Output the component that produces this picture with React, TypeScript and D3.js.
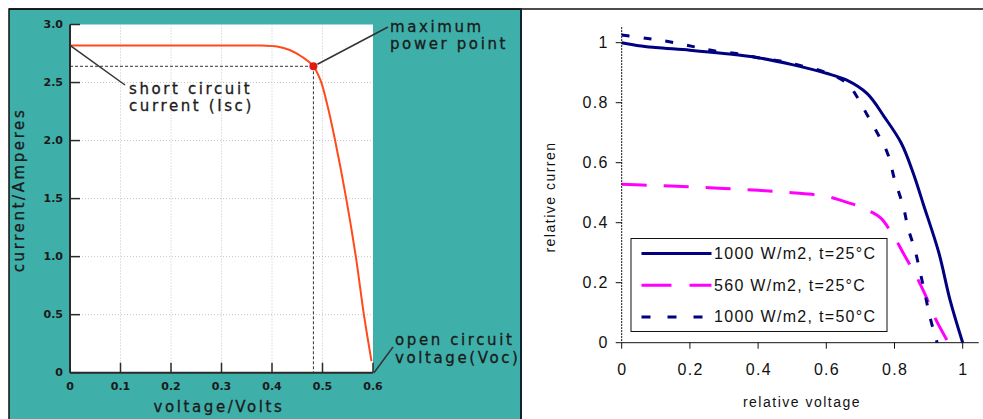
import React from "react";
import * as d3 from "d3";

// ---------- Left panel data (I-V curve) ----------
const leftVoltage = [0, 0.1, 0.2, 0.3, 0.38, 0.41, 0.435, 0.46, 0.482, 0.496, 0.511, 0.525, 0.547, 0.566, 0.582, 0.597];
const leftCurrent = [2.82, 2.82, 2.82, 2.82, 2.818, 2.81, 2.78, 2.72, 2.64, 2.52, 2.28, 2.0, 1.5, 1.0, 0.5, 0.1];
const mpp = { v: 0.482, i: 2.64 };
const iscValue = 2.82;
const vocValue = 0.6;
const leftXTicks = [0, 0.1, 0.2, 0.3, 0.4, 0.5, 0.6];
const leftXLabels = ["0", "0.1", "0.2", "0.3", "0.4", "0.5", "0.6"];
const leftYTicks = [0, 0.5, 1.0, 1.5, 2.0, 2.5, 3.0];
const leftYLabels = ["0", "0.5", "1.0", "1.5", "2.0", "2.5", "3.0"];

// ---------- Right panel data (relative curves) ----------
const seriesNames = ["1000 W/m2, t=25°C", "560 W/m2, t=25°C", "1000 W/m2, t=50°C"];
const s1V = [0, 0.05, 0.1, 0.2, 0.3, 0.4, 0.5, 0.6, 0.66, 0.72, 0.77, 0.82, 0.855, 0.885, 0.93, 0.963, 1.0];
const s1I = [1.0, 0.99, 0.984, 0.975, 0.964, 0.95, 0.927, 0.898, 0.875, 0.83, 0.753, 0.665, 0.565, 0.46, 0.3, 0.142, 0];
const s2V = [0, 0.1, 0.2, 0.3, 0.4, 0.5, 0.6, 0.65, 0.7, 0.73, 0.76, 0.8, 0.83, 0.86, 0.89, 0.92, 0.958];
const s2I = [0.528, 0.524, 0.52, 0.514, 0.508, 0.5, 0.488, 0.472, 0.453, 0.437, 0.415, 0.35, 0.29, 0.23, 0.16, 0.08, 0];
const s3V = [0, 0.07, 0.14, 0.21, 0.27, 0.34, 0.4, 0.46, 0.52, 0.6, 0.66, 0.69, 0.72, 0.75, 0.78, 0.8, 0.826, 0.84, 0.86, 0.875, 0.89, 0.905, 0.925];
const s3I = [1.026, 1.015, 1.003, 0.987, 0.973, 0.963, 0.95, 0.94, 0.925, 0.9, 0.865, 0.82, 0.759, 0.698, 0.63, 0.545, 0.453, 0.381, 0.309, 0.237, 0.159, 0.081, 0];
const rightXTicks = [0, 0.2, 0.4, 0.6, 0.8, 1];
const rightXLabels = ["0", "0.2", "0.4", "0.6", "0.8", "1"];
const rightYTicks = [0, 0.2, 0.4, 0.6, 0.8, 1];
const rightYLabels = ["0", "0.2", "0.4", "0.6", "0.8", "1"];

const TEAL = "#3fafa9";
const NAVY = "#000080";
const MAGENTA = "#ff00ff";
const ORANGE = "#ff4a1c";

export default function App() {
  // Left scales
  const lx = d3.scaleLinear().domain([0, 0.6]).range([70, 373]);
  const ly = d3.scaleLinear().domain([0, 3]).range([372.7, 24.5]);
  const leftLine = d3
    .line<number>()
    .x((_, k) => lx(leftVoltage[k]))
    .y((d) => ly(d))
    .curve(d3.curveCatmullRom.alpha(0.5));

  // Right scales
  const rx = d3.scaleLinear().domain([0, 1]).range([621.7, 962.7]);
  const ry = d3.scaleLinear().domain([0, 1]).range([342.7, 42.7]);
  const mk = (vs: number[], is: number[]) =>
    d3
      .line<number>()
      .x((_, k) => rx(vs[k]))
      .y((d) => ry(d))
      .curve(d3.curveCatmullRom.alpha(0.5))(is) as string;

  const leftFont = "'DejaVu Sans', Verdana, sans-serif";
  const rightFont = "'Liberation Sans', Arial, sans-serif";
  const annStyle: React.CSSProperties = { fontFamily: leftFont, fontSize: 15, letterSpacing: 2.6 };
  const rStyle: React.CSSProperties = { fontFamily: rightFont, fontSize: 16, letterSpacing: 1.3 };
  const tickStyle: React.CSSProperties = { fontFamily: leftFont, fontSize: 11, fontWeight: "bold" };

  const legendRows = [
    { name: seriesNames[0], color: NAVY, dash: undefined as string | undefined },
    { name: seriesNames[1], color: MAGENTA, dash: "30 18" },
    { name: seriesNames[2], color: NAVY, dash: "9 17" },
  ];

  return (
    <svg width={983} height={419} style={{ position: "absolute", left: 0, top: 0, background: "#fff" }}>
      {/* Left teal panel */}
      <rect x={9} y={9} width={512} height={420} fill={TEAL} stroke="#111" strokeWidth={1.5} />
      <line x1={9} x2={983} y1={9} y2={9} stroke="#111" strokeWidth={1.5} />
      {/* plot area */}
      <rect x={lx(0)} y={ly(3)} width={lx(0.6) - lx(0)} height={ly(0) - ly(3)} fill="#fff" />
      {/* grid */}
      {leftXTicks.slice(1, -1).map((t) => (
        <line key={"gx" + t} x1={lx(t)} x2={lx(t)} y1={ly(3)} y2={ly(0)} stroke="#c4c4c4" strokeWidth={1} strokeDasharray="1 2" />
      ))}
      {leftYTicks.slice(1, -1).map((t) => (
        <line key={"gy" + t} x1={lx(0)} x2={lx(0.6)} y1={ly(t)} y2={ly(t)} stroke="#c4c4c4" strokeWidth={1} strokeDasharray="1 2" />
      ))}
      {/* MPP guides */}
      <line x1={lx(0)} x2={lx(mpp.v)} y1={ly(mpp.i)} y2={ly(mpp.i)} stroke="#333" strokeWidth={1} strokeDasharray="3 2" />
      <line x1={lx(mpp.v)} x2={lx(mpp.v)} y1={ly(mpp.i)} y2={ly(0)} stroke="#333" strokeWidth={1} strokeDasharray="3 2" />
      {/* curve */}
      <path d={leftLine(leftCurrent) as string} fill="none" stroke={ORANGE} strokeWidth={2} />
      <circle cx={lx(mpp.v)} cy={ly(mpp.i)} r={4} fill="#e01a10" />
      {/* axes */}
      <line x1={lx(0)} x2={lx(0)} y1={ly(3)} y2={ly(0)} stroke="#2a2a2a" strokeWidth={2} />
      <line x1={lx(0)} x2={lx(0.6)} y1={ly(0)} y2={ly(0)} stroke="#2a2a2a" strokeWidth={2} />
      {leftYTicks.map((t, k) => (
        <g key={"ly" + t}>
          <line x1={lx(0)} x2={lx(0) + 10} y1={ly(t)} y2={ly(t)} stroke="#2a2a2a" strokeWidth={1.5} />
          <text x={63} y={ly(t)} textAnchor="end" dominantBaseline="central" style={tickStyle} fill="#1a1a1a">
            {leftYLabels[k]}
          </text>
        </g>
      ))}
      {leftXTicks.map((t, k) => (
        <g key={"lx" + t}>
          <line x1={lx(t)} x2={lx(t)} y1={ly(0)} y2={ly(0) - 10} stroke="#2a2a2a" strokeWidth={1.5} />
          <text x={lx(t)} y={386} textAnchor="middle" dominantBaseline="central" style={tickStyle} fill="#1a1a1a">
            {leftXLabels[k]}
          </text>
        </g>
      ))}
      {/* axis titles */}
      <text x={219} y={407} textAnchor="middle" dominantBaseline="central" style={annStyle} fill="#1a1a1a" stroke="#1a1a1a" strokeWidth={0.3}>
        voltage/Volts
      </text>
      <text transform="translate(19,190) rotate(-90)" textAnchor="middle" dominantBaseline="central" style={annStyle} fill="#1a1a1a" stroke="#1a1a1a" strokeWidth={0.3}>
        current/Amperes
      </text>
      {/* annotations */}
      <g fill="#1a1a1a" stroke="#1a1a1a" strokeWidth={0.3} style={annStyle}>
        <text x={129} y={89} dominantBaseline="central">short circuit</text>
        <text x={129} y={106} dominantBaseline="central">current (Isc)</text>
        <text x={390} y={27} dominantBaseline="central">maximum</text>
        <text x={390} y={44} dominantBaseline="central">power point</text>
        <text x={395} y={340} dominantBaseline="central">open circuit</text>
        <text x={395} y={358} dominantBaseline="central">voltage(Voc)</text>
      </g>
      <line x1={lx(0)} y1={ly(iscValue)} x2={125} y2={85} stroke="#333" strokeWidth={1.5} />
      <line x1={lx(mpp.v) + 4} y1={ly(mpp.i) - 2} x2={388} y2={27} stroke="#333" strokeWidth={1.5} />
      <line x1={lx(vocValue) + 1} y1={ly(0)} x2={393} y2={347} stroke="#333" strokeWidth={1.5} />

      {/* Right panel */}
      <rect x={521} y={10} width={462} height={409} fill="#fff" />
      <line x1={521} x2={521} y1={9} y2={419} stroke="#123" strokeWidth={2} />
      {/* curves */}
      <path d={mk(s1V, s1I)} fill="none" stroke={NAVY} strokeWidth={3} />
      <path d={mk(s2V, s2I)} fill="none" stroke={MAGENTA} strokeWidth={3} strokeDasharray="25 17" />
      <path d={mk(s3V, s3I)} fill="none" stroke={NAVY} strokeWidth={3} strokeDasharray="8 14" />
      {/* axes */}
      <line x1={rx(0)} x2={rx(0)} y1={ry(1.052)} y2={ry(0)} stroke="#111" strokeWidth={1} strokeDasharray="2 1" />
      <line x1={rx(0)} x2={rx(1.047)} y1={ry(0)} y2={ry(0)} stroke="#111" strokeWidth={1} />
      {rightYTicks.map((t, k) => (
        <g key={"ry" + t}>
          <line x1={rx(0) - 6} x2={rx(0)} y1={ry(t)} y2={ry(t)} stroke="#111" strokeWidth={1} />
          <text x={rx(0) - 13} y={ry(t)} textAnchor="end" dominantBaseline="central" style={rStyle} fill="#111">
            {rightYLabels[k]}
          </text>
        </g>
      ))}
      {rightXTicks.map((t, k) => (
        <g key={"rx" + t}>
          <line x1={rx(t)} x2={rx(t)} y1={ry(0)} y2={ry(0) + 6} stroke="#111" strokeWidth={1} />
          <text x={rx(t) + 0.7} y={369} textAnchor="middle" dominantBaseline="central" style={rStyle} fill="#111">
            {rightXLabels[k]}
          </text>
        </g>
      ))}
      <text x={802} y={402} textAnchor="middle" dominantBaseline="central" style={{ fontFamily: rightFont, fontSize: 14, letterSpacing: 1.5 }} fill="#111">
        relative voltage
      </text>
      <text transform="translate(550,197) rotate(-90)" textAnchor="middle" dominantBaseline="central" style={{ fontFamily: rightFont, fontSize: 14, letterSpacing: 1.5 }} fill="#111">
        relative curren
      </text>
      {/* legend */}
      <rect x={631} y={238.5} width={256} height={93} fill="#fff" stroke="#111" strokeWidth={1} />
      {legendRows.map((r, k) => {
        const yy = 253.5 + k * 31.7;
        return (
          <g key={"lg" + k}>
            <line x1={641.5} x2={711.5} y1={yy} y2={yy} stroke={r.color} strokeWidth={3} strokeDasharray={r.dash} />
            <text x={714} y={yy} dominantBaseline="central" style={rStyle} fill="#111">
              {r.name}
            </text>
          </g>
        );
      })}
    </svg>
  );
}
